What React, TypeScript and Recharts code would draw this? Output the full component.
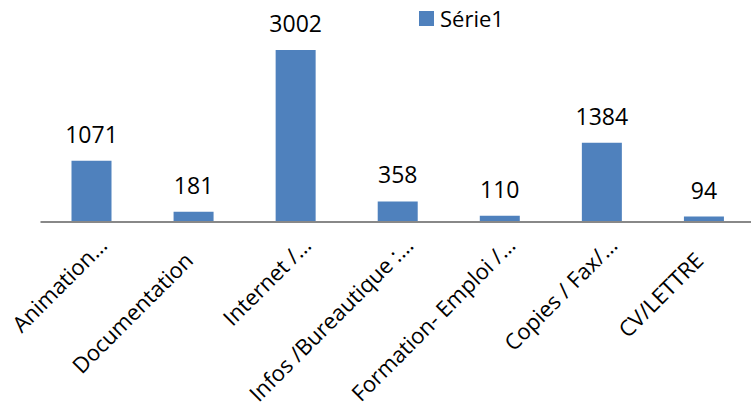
import React from "react";
import { BarChart, Bar, XAxis, YAxis, Legend, LabelList } from "recharts";

const categories = [
  "Animation…",
  "Documentation",
  "Internet /…",
  "Infos /Bureautique :…",
  "Formation- Emploi /…",
  "Copies / Fax/…",
  "CV/LETTRE",
];
const serie1 = [1071, 181, 3002, 358, 110, 1384, 94];

const data = categories.map((name, i) => ({ name, value: serie1[i] }));

const FONT = "'Open Sans', sans-serif";
const BLUE = "#4F81BD";

const AngledTick = (props: any) => {
  const { x, y, payload } = props;
  const label: string = payload.value;
  // truncated labels sit further up-right, like the original
  const cut = label.endsWith("…");
  const dx = cut ? 17 : 1;
  const dy = cut ? 25 : 40;
  return (
    <g transform={`translate(${x + dx},${y + dy})`}>
      <text
        textAnchor="end"
        transform="rotate(-45)"
        fontSize={22}
        fontFamily={FONT}
        fill="#000"
      >
        {label}
      </text>
    </g>
  );
};

const ValueLabel = (props: any) => {
  const { x, y, width, value } = props;
  return (
    <text
      x={x + width / 2}
      y={y - 18}
      textAnchor="middle"
      fontSize={23}
      fontFamily={FONT}
      fill="#000"
    >
      {value}
    </text>
  );
};

const SerieLegend = () => (
  <div style={{ position: "relative", width: 120, height: 32, fontFamily: FONT }}>
    <span
      style={{
        position: "absolute",
        left: 0,
        top: 11,
        width: 15,
        height: 15,
        background: BLUE,
      }}
    />
    <span
      style={{
        position: "absolute",
        left: 21,
        top: 7,
        fontSize: 22,
        lineHeight: "22px",
        color: "#000",
        whiteSpace: "nowrap",
      }}
    >
      Série1
    </span>
  </div>
);

export default function App() {
  return (
    <div style={{ position: "absolute", left: 0, top: 0 }}>
      <BarChart
        width={751}
        height={413}
        data={data}
        margin={{ top: 21.5, right: -4, bottom: 0, left: 40.5 }}
      >
        <XAxis
          dataKey="name"
          height={191}
          interval={0}
          tickLine={false}
          tickSize={0}
          tickMargin={0}
          axisLine={{ stroke: "#888888", strokeWidth: 2 }}
          tick={<AngledTick />}
        />
        <YAxis hide domain={[0, 3500]} />
        <Legend
          layout="horizontal"
          verticalAlign="middle"
          content={<SerieLegend />}
          wrapperStyle={{ top: 0, left: 419, width: 120 }}
        />
        <Bar dataKey="value" name="Série1" fill={BLUE} barSize={40} isAnimationActive={false}>
          <LabelList dataKey="value" content={<ValueLabel />} />
        </Bar>
      </BarChart>
    </div>
  );
}
